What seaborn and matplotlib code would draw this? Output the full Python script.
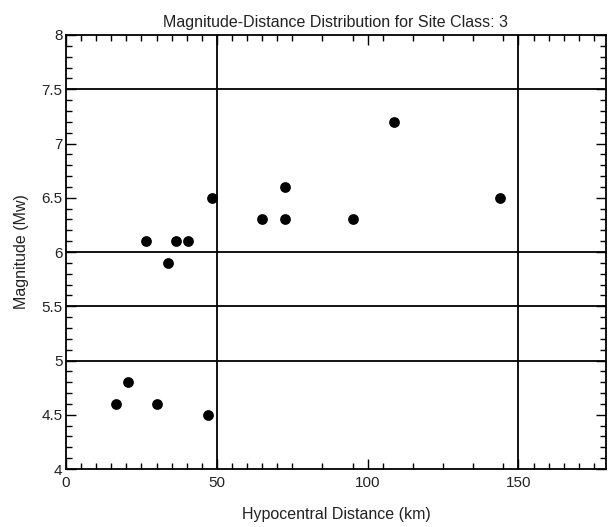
import matplotlib
matplotlib.use("Agg")
import matplotlib.pyplot as plt
import seaborn as sns
import pandas as pd
from matplotlib.ticker import FixedLocator, MultipleLocator

# Data
distance = [16.6, 20.5, 30.1, 47.0, 26.5, 33.8, 36.4, 40.4, 48.3,
            64.9, 72.5, 72.5, 95.0, 108.9, 144.0]
magnitude = [4.6, 4.8, 4.6, 4.5, 6.1, 5.9, 6.1, 6.1, 6.5,
             6.3, 6.6, 6.3, 6.3, 7.2, 6.5]
hlines = [5.0, 5.5, 6.0, 7.5]
vlines = [50, 150]
x_major = [0, 50, 100, 150]
x_minor = [5, 10, 15, 20, 25, 30, 35, 40, 45, 55, 60, 65, 70, 75,
           85, 95, 105, 115, 125, 135, 145, 155, 160, 165, 170, 175]
y_major = [4, 4.5, 5, 5.5, 6, 6.5, 7, 7.5, 8]
y_labels = ["4", "4.5", "5", "5.5", "6", "6.5", "7", "7.5", "8"]

df = pd.DataFrame({"Distance": distance, "Magnitude": magnitude})

sns.set_style("white")
plt.rcParams["font.family"] = ["Liberation Sans", "DejaVu Sans"]

fig = plt.figure(figsize=(6.08, 5.27), dpi=100)
ax = fig.add_axes([0.1086, 0.110, 0.888, 0.8236])

for y in hlines:
    ax.axhline(y, color="black", lw=1.3, zorder=1)
for x in vlines:
    ax.axvline(x, color="black", lw=1.3, zorder=1)

sns.scatterplot(data=df, x="Distance", y="Magnitude", ax=ax, color="black",
                s=60, edgecolor="black", linewidth=0, zorder=3)

ax.set_xlim(0, 179)
ax.set_ylim(4, 8)
ax.xaxis.set_major_locator(FixedLocator(x_major))
ax.xaxis.set_minor_locator(FixedLocator(x_minor))
ax.yaxis.set_major_locator(FixedLocator(y_major))
ax.yaxis.set_minor_locator(MultipleLocator(0.1))
ax.set_yticklabels(y_labels)
ax.tick_params(which="both", direction="in", top=True, right=True,
               bottom=True, left=True, labelsize=11, color="black",
               labelcolor="#222222")
ax.tick_params(which="major", length=7, width=1)
ax.tick_params(which="minor", length=4, width=1)
ax.tick_params(axis="x", pad=5)
ax.tick_params(axis="y", pad=2.5)
for s in ax.spines.values():
    s.set_color("black")
    s.set_linewidth(1.3)

ax.set_title("Magnitude-Distance Distribution for Site Class: 3",
             fontsize=11.5, pad=6, color="#222222")
ax.set_xlabel("Hypocentral Distance (km)", fontsize=11.5, labelpad=12,
              color="#222222")
ax.set_ylabel("Magnitude (Mw)", fontsize=11.5, labelpad=9, color="#222222")

fig.savefig("out.png", dpi=100)
plt.close()
